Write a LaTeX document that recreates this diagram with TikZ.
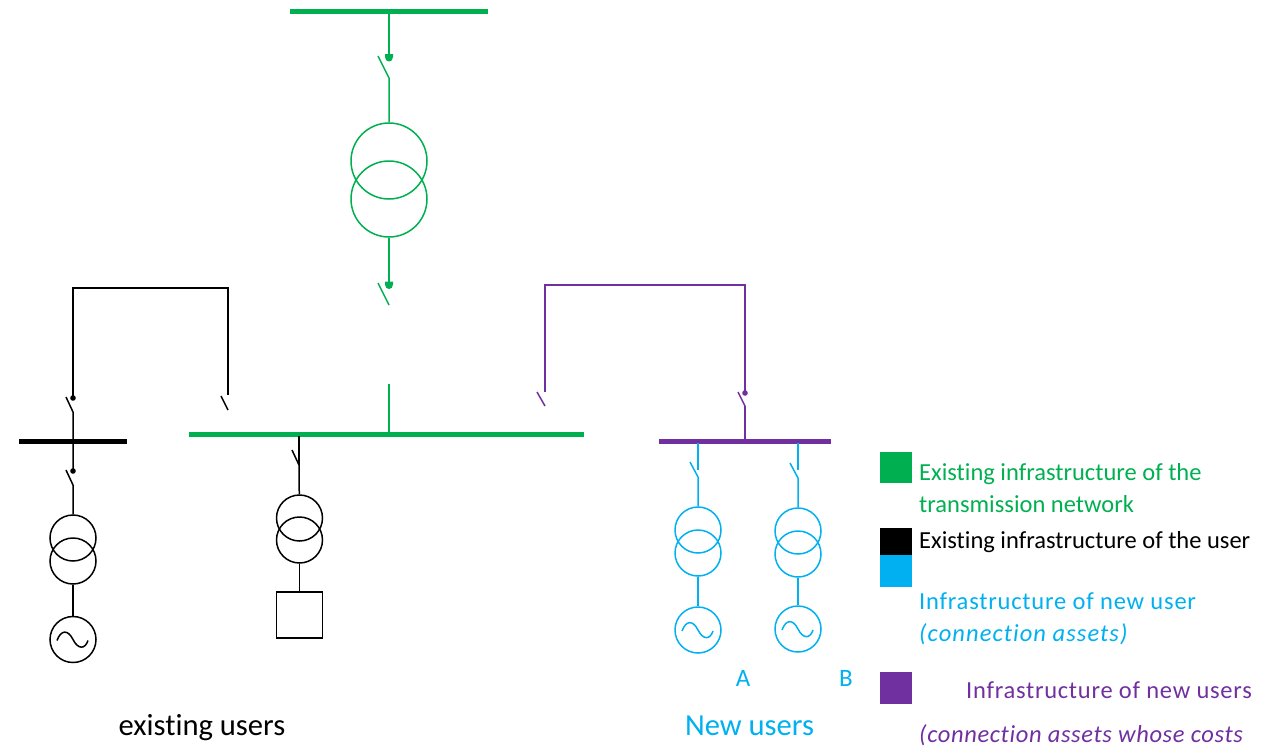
\documentclass[tikz,border=0pt]{standalone}
\usepackage{fontspec}
\setmainfont[Ligatures=NoCommon]{Carlito}
\usetikzlibrary{calc}
\usetikzlibrary{positioning}
\definecolor{netgreen}{HTML}{00B050}
\definecolor{newblue}{HTML}{00B0F0}
\definecolor{newpurple}{HTML}{7030A0}

\begin{document}
\begin{tikzpicture}[
x=1pt,y=-1pt,
Wires/.style={line width=1.5pt},
HeavyWires/.style={line width=2.2pt},
Busbars/.style={line width=5pt},
MyCircles/.style={circle,draw,line width=1.5pt,inner sep=0pt,minimum size=46pt},
BigCircles/.style={circle,draw,line width=1.5pt,inner sep=0pt,minimum size=76pt},
LoadBox/.style={rectangle,draw,line width=1.5pt,inner sep=0pt,minimum size=46pt},
LegendBox/.style={rectangle,inner sep=0pt,minimum width=32pt,anchor=north west},
LegendText/.style={anchor=base west,inner sep=0pt,font=\fontsize{24.5}{28}\selectfont},
UserText/.style={anchor=base,inner sep=0pt,font=\fontsize{30.6}{34}\selectfont},
LetterText/.style={anchor=base,inner sep=0pt,font=\fontsize{25}{29}\selectfont},
tilde/.pic={\draw[line width=1.5pt] (-16,1) .. controls (-12,-10) and (-5,-10) .. (0,0) .. controls (5,10) and (12,10) .. (15,1);},
halfdot/.pic={\fill (-4,-4) -- (4,-4) -- (4,-1) .. controls (4,5) and (-4,5) .. (-4,-1) -- cycle;}
]
\useasboundingbox (0,0) rectangle (1281,747);

% main feeder
\coordinate (BusTopL) at (290,11);
\coordinate (BusTopR) at (488,11);
\coordinate (BusTopT) at (389,11);
\coordinate (SwTopA) at (389,58);
\coordinate (SwTopB) at (389,78);
\coordinate (SwTopC) at (378,56);
\node[BigCircles,netgreen] (TrTopA) at (389,161) {};
\node[BigCircles,netgreen] (TrTopB) at (389,199) {};
\coordinate (SwLowA) at (389,285.5);
\coordinate (SwLowB) at (389,305);
\coordinate (SwLowC) at (378,283);
\coordinate (StubTop) at (389,384);
\coordinate (StubBus) at (389,434);
\coordinate (BusMidL) at (189,434);
\coordinate (BusMidR) at (584,434);

\draw[Busbars,netgreen] (BusTopL)--(BusTopR);
\draw[Wires,netgreen] (BusTopT)--(SwTopA);
\draw[Wires,netgreen] (SwTopC)--(SwTopB)--(TrTopA);
\draw[Wires,netgreen] (TrTopB)--(SwLowA);
\draw[Wires,netgreen] (SwLowC)--(SwLowB);
\draw[Wires,netgreen] (StubTop)--(StubBus);
\draw[Busbars,netgreen] (BusMidL)--(BusMidR);
\pic[netgreen] at (SwTopA) {halfdot};
\pic[netgreen] at (SwLowA) {halfdot};

% existing users, left
\coordinate (LoopA) at (73,398);
\coordinate (LoopB) at (73,288);
\coordinate (LoopC) at (228,288);
\coordinate (LoopD) at (228,395);
\coordinate (BladeA) at (221,396);
\coordinate (BladeB) at (228,410);
\coordinate (SwBlkA) at (66,397);
\coordinate (SwBlkB) at (73,412);
\coordinate (SwBlkC) at (73,471);
\coordinate (SwBlkD) at (66,470);
\coordinate (SwBlkE) at (73,485);
\coordinate (BusBlkL) at (19,441);
\coordinate (BusBlkR) at (127,441);
\node[MyCircles] (TrBlkA) at (73,538) {};
\node[MyCircles] (TrBlkB) at (73,561) {};
\node[MyCircles] (GenBlk) at (73,639.5) {};

\draw[Wires] (LoopA)--(LoopB)--(LoopC)--(LoopD);
\draw[Wires] (BladeA)--(BladeB);
\draw[Wires] (SwBlkA)--(SwBlkB)--(SwBlkC);
\draw[Wires] (SwBlkD)--(SwBlkE)--(TrBlkA);
\draw[Wires] (TrBlkB)--(GenBlk);
\draw[Busbars] (BusBlkL)--(BusBlkR);
\fill (LoopA) circle (2.8);
\fill (SwBlkC) circle (2.8);
\pic at (GenBlk) {tilde};

% existing users, load
\coordinate (SwLoadA) at (299,436);
\coordinate (SwLoadB) at (299,465);
\coordinate (SwLoadC) at (292,450);
\node[MyCircles] (TrLoadA) at (299.5,518) {};
\node[MyCircles] (TrLoadB) at (299.5,540) {};
\node[LoadBox] (LoadBlk) at (299.5,615) {};

\draw[HeavyWires] (SwLoadA)--(SwLoadB);
\draw[Wires] (SwLoadC)--(SwLoadB)--(TrLoadA);
\draw[Wires] (TrLoadB)--(LoadBlk);

% new users
\coordinate (PathA) at (545,392);
\coordinate (PathB) at (545,285);
\coordinate (PathC) at (745,285);
\coordinate (PathD) at (745,393);
\coordinate (BladeC) at (537,392);
\coordinate (BladeD) at (545,406);
\coordinate (SwPurA) at (738,392);
\coordinate (SwPurB) at (745,406);
\coordinate (SwPurC) at (745,441);
\coordinate (BusPurL) at (659,441);
\coordinate (BusPurR) at (831,441);

\draw[Wires,newpurple] (PathA)--(PathB)--(PathC)--(PathD);
\draw[Wires,newpurple] (BladeC)--(BladeD);
\draw[Wires,newpurple] (SwPurA)--(SwPurB);
\draw[HeavyWires,newpurple] (SwPurB)--(SwPurC);
\draw[Busbars,newpurple] (BusPurL)--(BusPurR);
\fill[newpurple] (PathD) circle (2.8);

\coordinate (SwAa) at (698,443);
\coordinate (SwAb) at (698,470);
\coordinate (SwAc) at (690,462);
\coordinate (SwAd) at (698,477);
\node[MyCircles,newblue] (TrAa) at (698,530) {};
\node[MyCircles,newblue] (TrAb) at (698,553) {};
\node[MyCircles,newblue] (GenA) at (698,630) {};

\coordinate (SwBa) at (798,443);
\coordinate (SwBb) at (798,470);
\coordinate (SwBc) at (790,463);
\coordinate (SwBd) at (798,478);
\node[MyCircles,newblue] (TrBa) at (798,531) {};
\node[MyCircles,newblue] (TrBb) at (798,554) {};
\node[MyCircles,newblue] (GenB) at (798,629) {};

\draw[HeavyWires,newblue] (SwAa)--(SwAb);
\draw[Wires,newblue] (SwAc)--(SwAd)--(TrAa);
\draw[Wires,newblue] (TrAb)--(GenA);
\draw[HeavyWires,newblue] (SwBa)--(SwBb);
\draw[Wires,newblue] (SwBc)--(SwBd)--(TrBa);
\draw[Wires,newblue] (TrBb)--(GenB);
\pic[newblue] at (GenA) {tilde};
\pic[newblue] at (GenB) {tilde};

\node[LetterText,newblue] (LabelA) at (743,686) {A};
\node[LetterText,newblue] (LabelB) at (846,686) {B};
\node[UserText,newblue] (NewUsers) at (749.5,735) {New users};
\node[UserText] (OldUsers) at (202,735) {existing users};

% legend
\node[LegendBox,fill=netgreen,minimum height=31pt] (KeyNet) at (880,452) {};
\node[LegendBox,fill=black,minimum height=27pt] (KeyUser) at (880,528) {};
\node[LegendBox,fill=newblue,minimum height=32pt] (KeyNew) at (880,555) {};
\node[LegendBox,fill=newpurple,minimum height=32pt] (KeyShared) at (880,672) {};

\node[LegendText,netgreen] (TxtNetA) at (919,480) {Existing infrastructure of the};
\node[LegendText,netgreen] (TxtNetB) at (919,512) {transmission network};
\node[LegendText] (TxtUser) at (919,548) {Existing infrastructure of the user};
\node[LegendText,newblue] (TxtNewA) at (919,609) {\addfontfeature{LetterSpace=3.2}Infrastructure of new user};
\node[LegendText,newblue] (TxtNewB) at (919,641) {\itshape\addfontfeature{LetterSpace=4.4}(connection assets)};
\node[LegendText,newpurple] (TxtSharedA) at (966,698) {\addfontfeature{LetterSpace=3}Infrastructure of new users};
\node[LegendText,newpurple] (TxtSharedB) at (919,742) {\itshape\addfontfeature{LetterSpace=2.6}(connection assets whose costs};
\end{tikzpicture}
\end{document}
